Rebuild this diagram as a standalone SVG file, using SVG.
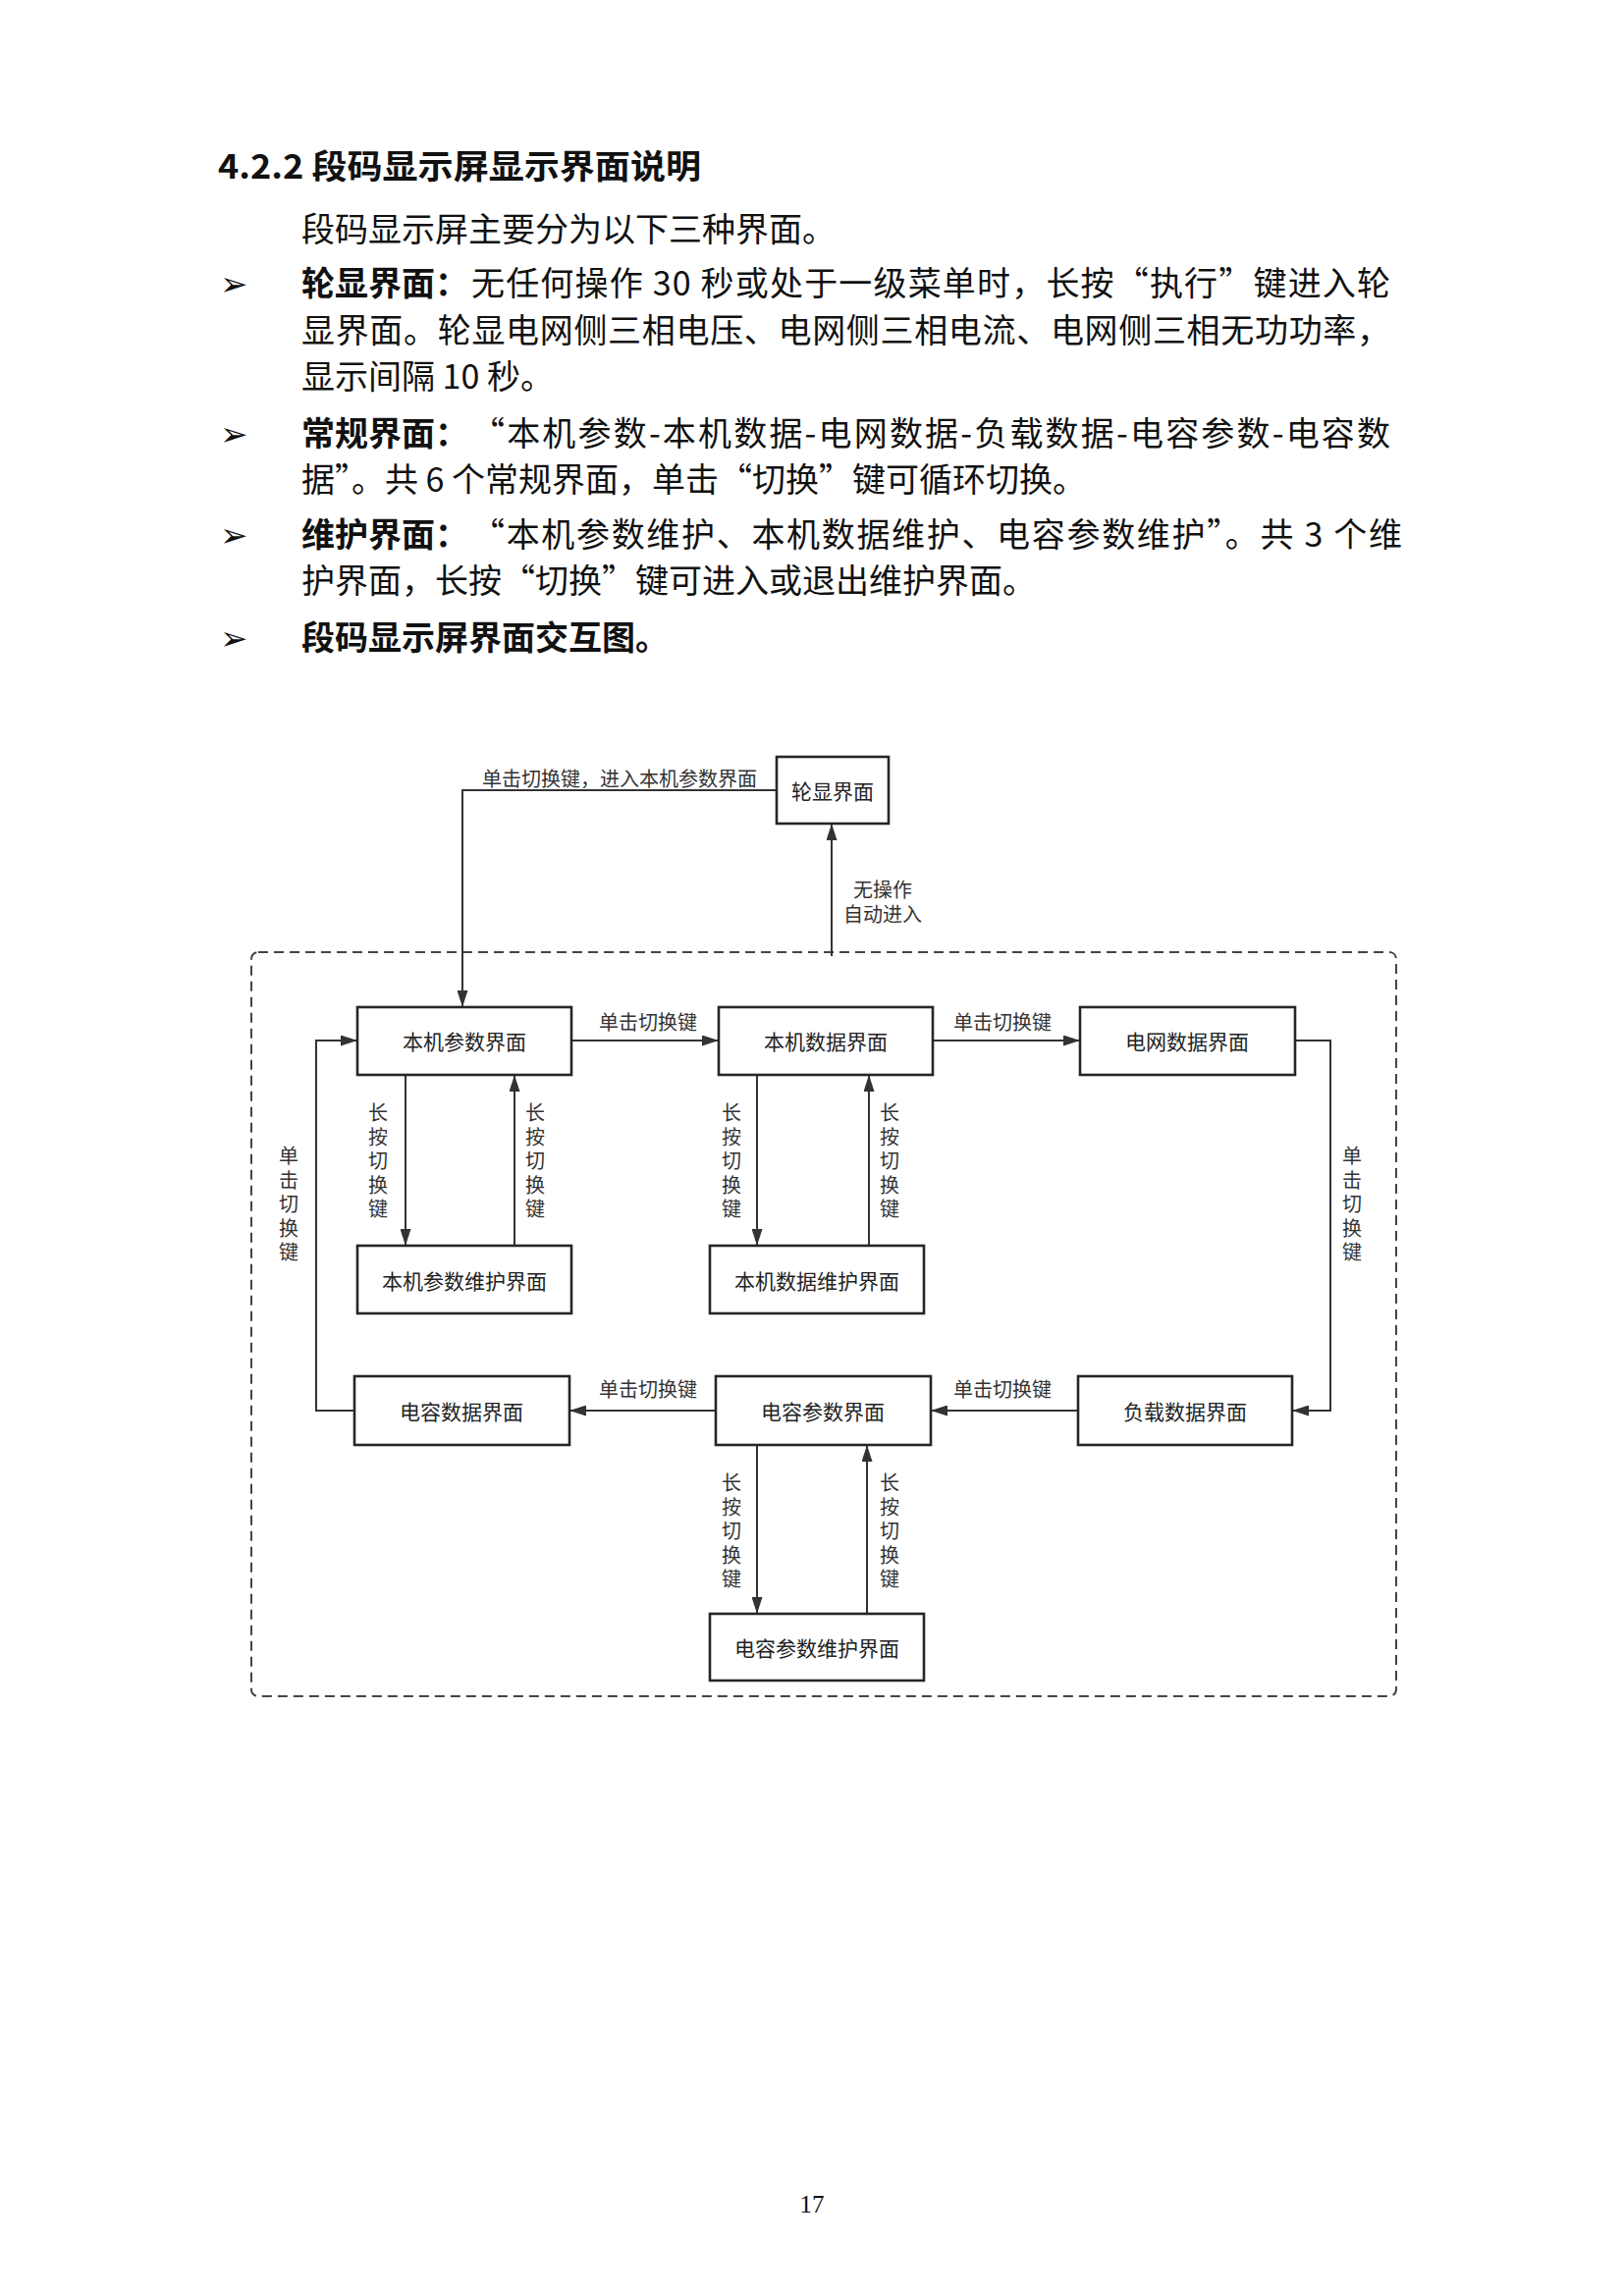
<svg xmlns="http://www.w3.org/2000/svg" width="1653" height="2339" viewBox="0 0 1653 2339">
<style>
.body{font-family:"Noto Sans CJK SC","Liberation Sans",sans-serif;font-size:34px;fill:#111;}
.b{font-weight:bold;}
.bul{font-family:"DejaVu Sans",sans-serif;font-size:34px;fill:#111;}
.node rect{fill:#fff;stroke:#262626;stroke-width:2.6;}
.node text{font-family:"Noto Sans CJK SC","Liberation Sans",sans-serif;font-size:21px;fill:#222;text-anchor:middle;dominant-baseline:central;}
.lbl{font-family:"Noto Sans CJK SC","Liberation Sans",sans-serif;font-size:20px;fill:#333;text-anchor:middle;dominant-baseline:central;}
.vl{font-family:"Noto Sans CJK SC","Liberation Sans",sans-serif;font-size:20px;fill:#333;text-anchor:middle;writing-mode:vertical-rl;letter-spacing:4.5px;}
.conn path{fill:none;stroke:#333;stroke-width:2;}
.dash{fill:none;stroke:#444;stroke-width:2;stroke-dasharray:10 6;}
.pg{font-family:"Liberation Serif",serif;font-size:25px;fill:#111;text-anchor:middle;}
</style>
<defs>
<marker id="ah" markerUnits="userSpaceOnUse" markerWidth="17" markerHeight="11" refX="17" refY="5.5" orient="auto">
<path d="M0,0 L17,5.5 L0,11 z" fill="#333"/>
</marker>
</defs>
<rect width="1653" height="2339" fill="#fff"/>

<!-- text block -->
<text class="body b" x="222" y="182" textLength="492" lengthAdjust="spacingAndGlyphs">4.2.2 段码显示屏显示界面说明</text>
<text class="body" x="307" y="246">段码显示屏主要分为以下三种界面。</text>

<text class="bul" x="224" y="301">➢</text>
<text class="body b" x="307" y="301">轮显界面：</text>
<text class="body" x="480" y="301" textLength="936" lengthAdjust="spacing">无任何操作 30 秒或处于一级菜单时，长按“执行”键进入轮</text>
<text class="body" x="307" y="349" textLength="1109" lengthAdjust="spacing">显界面。轮显电网侧三相电压、电网侧三相电流、电网侧三相无功功率，</text>
<text class="body" x="307" y="396">显示间隔 10 秒。</text>

<text class="bul" x="224" y="454">➢</text>
<text class="body b" x="307" y="454">常规界面：</text>
<text class="body" x="480" y="454" textLength="936" lengthAdjust="spacing">“本机参数-本机数据-电网数据-负载数据-电容参数-电容数</text>
<text class="body" x="307" y="501">据”。共 6 个常规界面，单击“切换”键可循环切换。</text>

<text class="bul" x="224" y="557">➢</text>
<text class="body b" x="307" y="557">维护界面：</text>
<text class="body" x="480" y="557" textLength="948" lengthAdjust="spacing">“本机参数维护、本机数据维护、电容参数维护”。共 3 个维</text>
<text class="body" x="307" y="604">护界面，长按“切换”键可进入或退出维护界面。</text>

<text class="bul" x="224" y="662">➢</text>
<text class="body b" x="307" y="662">段码显示屏界面交互图。</text>

<!-- diagram container -->
<rect class="dash" x="256" y="970" width="1166" height="758" rx="7" ry="7"/>

<!-- connectors -->
<g id="connectors" class="conn">
<path d="M791,805 H471 V1026" marker-end="url(#ah)"/>
<path d="M847,974 V839" marker-end="url(#ah)"/>
<path d="M582,1060 H732" marker-end="url(#ah)"/>
<path d="M950,1060 H1100" marker-end="url(#ah)"/>
<path d="M1319,1060 H1355 V1437 H1316" marker-end="url(#ah)"/>
<path d="M1098,1437 H948" marker-end="url(#ah)"/>
<path d="M729,1437 H580" marker-end="url(#ah)"/>
<path d="M361,1437 H322 V1060 H364" marker-end="url(#ah)"/>
<path d="M413,1095 V1269" marker-end="url(#ah)"/>
<path d="M524,1269 V1095" marker-end="url(#ah)"/>
<path d="M771,1095 V1269" marker-end="url(#ah)"/>
<path d="M885,1269 V1095" marker-end="url(#ah)"/>
<path d="M771,1472 V1644" marker-end="url(#ah)"/>
<path d="M883,1644 V1472" marker-end="url(#ah)"/>
</g>

<!-- connector labels -->
<g id="labels">
<text class="lbl" x="631" y="792">单击切换键，进入本机参数界面</text>
<text class="lbl" x="899" y="905">无操作</text>
<text class="lbl" x="899" y="930">自动进入</text>
<text class="lbl" x="660" y="1040">单击切换键</text>
<text class="lbl" x="1021" y="1040">单击切换键</text>
<text class="lbl" x="1021" y="1414">单击切换键</text>
<text class="lbl" x="660" y="1414">单击切换键</text>
<text class="vl" x="294" y="1229">单击切换键</text>
<text class="vl" x="1377" y="1229">单击切换键</text>
<text class="vl" x="385" y="1185">长按切换键</text>
<text class="vl" x="545" y="1185">长按切换键</text>
<text class="vl" x="745" y="1185">长按切换键</text>
<text class="vl" x="906" y="1185">长按切换键</text>
<text class="vl" x="745" y="1562">长按切换键</text>
<text class="vl" x="906" y="1562">长按切换键</text>
</g>

<!-- nodes -->
<g id="n-lunxian" class="node"><rect x="791" y="771" width="114" height="68"/><text x="848" y="805">轮显界面</text></g>
<g id="n-bjcs" class="node"><rect x="364" y="1026" width="218" height="69"/><text x="473" y="1060">本机参数界面</text></g>
<g id="n-bjsj" class="node"><rect x="732" y="1026" width="218" height="69"/><text x="841" y="1060">本机数据界面</text></g>
<g id="n-dwsj" class="node"><rect x="1100" y="1026" width="219" height="69"/><text x="1209" y="1060">电网数据界面</text></g>
<g id="n-bjcswh" class="node"><rect x="364" y="1269" width="218" height="69"/><text x="473" y="1304">本机参数维护界面</text></g>
<g id="n-bjsjwh" class="node"><rect x="723" y="1269" width="218" height="69"/><text x="832" y="1304">本机数据维护界面</text></g>
<g id="n-drsj" class="node"><rect x="361" y="1402" width="219" height="70"/><text x="470" y="1437">电容数据界面</text></g>
<g id="n-drcs" class="node"><rect x="729" y="1402" width="219" height="70"/><text x="838" y="1437">电容参数界面</text></g>
<g id="n-fzsj" class="node"><rect x="1098" y="1402" width="218" height="70"/><text x="1207" y="1437">负载数据界面</text></g>
<g id="n-drcswh" class="node"><rect x="723" y="1644" width="218" height="68"/><text x="832" y="1678">电容参数维护界面</text></g>

<text class="pg" x="827" y="2254">17</text>
</svg>
